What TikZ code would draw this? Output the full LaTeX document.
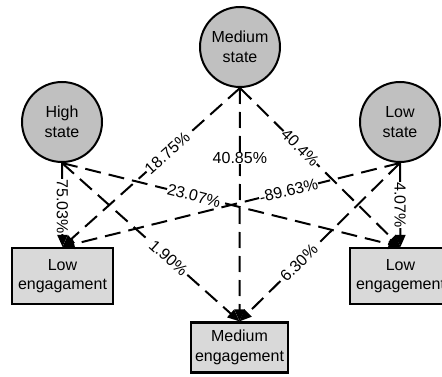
\documentclass[tikz,border=0pt]{standalone}
\usepackage{fontspec}
\setmainfont{Liberation Sans}
\usetikzlibrary{arrows.meta}
\definecolor{stategray}{RGB}{192,192,192}
\definecolor{enggray}{RGB}{217,217,217}
\begin{document}
\begin{tikzpicture}[x=1pt,y=-1pt,
  txt/.style={font=\fontsize{16}{19.5}\selectfont},
  statenode/.style={txt, circle, draw=black, line width=2pt, fill=stategray,
    minimum size=80pt, inner sep=0pt, align=center},
  engnode/.style={txt, rectangle, draw=black, line width=2.2pt, fill=enggray,
    minimum width=101pt, minimum height=56pt, inner sep=0pt, align=center},
  conn/.style={line width=2pt, -{Triangle[length=12pt,width=10pt]}},
  dconn/.style={conn, dash pattern=on 16pt off 8pt},
  lab/.style={txt, fill=white, inner sep=0.5pt}
]
\useasboundingbox (0,0) rectangle (442,377);
\fill[white] (0,0) rectangle (442,377);

\node[statenode] (hs) at (62,122) {High\\state};
\node[statenode] (ms) at (240,47) {Medium\\state};
\node[statenode] (ls) at (400,122) {Low\\state};

\node[engnode] (le) at (62.5,276) {Low\\engagament};
\node[engnode, minimum width=97pt, minimum height=50pt] (me) at (239.5,347.5) {Medium\\engagement};
\node[engnode] (re) at (400.5,276) {Low\\engagement};

% from High state
\draw[conn] (hs.south) -- node[lab, rotate=-90, pos=0.52] {75.03\%} (le.north);
\draw[dconn] (hs.south) -- node[lab, sloped, pos=0.39] {23.07\%} (re.north);
\draw[dconn] (hs.south) -- node[lab, sloped, pos=0.6] {1.90\%} (me.north);

% from Medium state
\draw[dconn] (ms.south) -- node[lab, sloped, pos=0.41] {18.75\%} (le.north);
\draw[dconn] (ms.south) -- node[lab, pos=0.3] {40.85\%} (me.north);
\draw[dconn] (ms.south) -- node[lab, sloped, pos=0.375] {40.4\%} (re.north);

% from Low state
\draw[dconn] (ls.south) -- node[lab, sloped, pos=0.33] {-89.63\%} (le.north);
\draw[dconn] (ls.south) -- node[lab, sloped, pos=0.63] {6.30\%} (me.north);
\draw[conn] (ls.south) -- node[lab, rotate=-90, pos=0.5] {4.07\%} (re.north);
\end{tikzpicture}
\end{document}
